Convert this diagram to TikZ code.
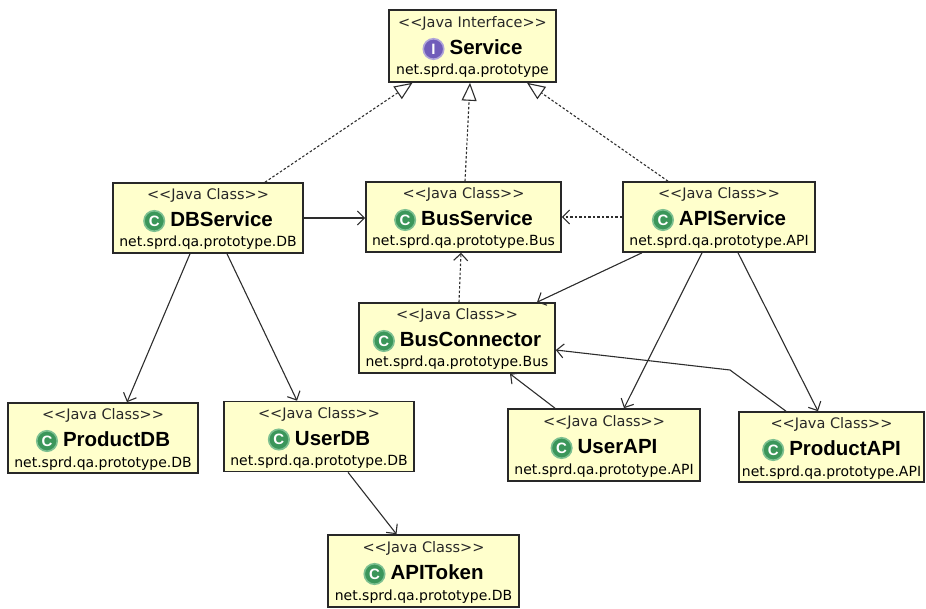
\documentclass[tikz,border=0pt]{standalone}
\usepackage{fontspec}
\usepackage{tikz}
\usetikzlibrary{arrows.meta}

\newfontfamily\stereofamily{DejaVu Sans}
\newfontfamily\namefamily{Liberation Sans}

\definecolor{boxYellow}{RGB}{255,255,204}
\definecolor{boxLine}{RGB}{40,40,40}
\definecolor{edgeGray}{RGB}{45,45,45}
\definecolor{textGray}{RGB}{40,40,40}
\definecolor{iconGreen}{RGB}{59,150,90}
\definecolor{iconRing}{RGB}{125,192,145}
\definecolor{iconPurple}{RGB}{112,92,186}

\tikzset{icon/.style={circle, line width=1.6pt, text=white, inner sep=0pt,
  minimum size=20.5pt, font=\namefamily\bfseries\fontsize{15}{15}\selectfont}}

\newcommand\classicon{\tikz[baseline=-5.5pt]\node[icon, fill=iconGreen, draw=iconRing] {C};}
\newcommand\ifaceicon{\tikz[baseline=-5.5pt]\node[icon, fill=iconPurple, draw=iconPurple!55!white] {I};}

% stereotype, icon, name, package
\newcommand\umlbox[4]{%
  \vbox to 70pt{\offinterlineskip
    \halign{\hfil##\hfil\cr
      \vrule height16.5pt width0pt\smash{\stereofamily\fontsize{14.5}{16}\selectfont\color{textGray}<\kern0pt<#1>\kern0pt>}\cr
      \vrule height27pt width0pt\smash{#2\kern5pt\namefamily\bfseries\fontsize{20.5}{22}\selectfont #3}\cr
      \vrule height20.5pt width0pt\smash{\stereofamily\fontsize{14}{16}\selectfont #4}\cr}%
    \vss}}

\begin{document}
\begin{tikzpicture}
[x=1pt, y=-1pt,
  jclass/.style={draw=boxLine, fill=boxYellow, line width=1.6pt,
    inner sep=0pt, minimum height=70pt},
  dep/.style={draw=edgeGray, line width=1.1pt,
    -{Straight Barb[length=7pt, width=14pt]}},
  usedep/.style={dep, dash pattern=on 2.5pt off 2pt},
  realize/.style={draw=edgeGray, line width=1.1pt, dash pattern=on 2.5pt off 2pt,
    -{Triangle[open, length=18pt, width=15pt, fill=white]}}]
  \useasboundingbox (0,0) rectangle (926,609);

  % interface
  \node[jclass, minimum width=167pt, minimum height=72pt] (service) at (472.5,46)
    {\umlbox{Java Interface}{\ifaceicon}{Service}{net.sprd.qa.prototype}};

  % service classes
  \node[jclass, minimum width=190pt] (dbservice) at (208,218)
    {\umlbox{Java Class}{\classicon}{DBService}{net.sprd.qa.prototype.DB}};
  \node[jclass, minimum width=195pt] (busservice) at (463.5,217)
    {\umlbox{Java Class}{\classicon}{BusService}{net.sprd.qa.prototype.Bus}};
  \node[jclass, minimum width=192pt] (apiservice) at (719,217)
    {\umlbox{Java Class}{\classicon}{APIService}{net.sprd.qa.prototype.API}};
  \node[jclass, minimum width=196pt] (busconnector) at (457,338)
    {\umlbox{Java Class}{\classicon}{BusConnector}{net.sprd.qa.prototype.Bus}};

  % lower row
  \node[jclass, minimum width=190pt] (productdb) at (103,438)
    {\umlbox{Java Class}{\classicon}{ProductDB}{net.sprd.qa.prototype.DB}};
  \node[jclass, minimum width=190pt] (userdb) at (319,436.5)
    {\umlbox{Java Class}{\classicon}{UserDB}{net.sprd.qa.prototype.DB}};
  \node[jclass, minimum width=191pt, minimum height=72pt] (apitoken) at (423.5,571)
    {\umlbox{Java Class}{\classicon}{APIToken}{net.sprd.qa.prototype.DB}};
  \node[jclass, minimum width=192pt, minimum height=72pt] (userapi) at (604,445)
    {\umlbox{Java Class}{\classicon}{UserAPI}{net.sprd.qa.prototype.API}};
  \node[jclass, minimum width=185pt] (productapi) at (831.5,447)
    {\umlbox{Java Class}{\classicon}{ProductAPI}{net.sprd.qa.prototype.API}};

  \coordinate (bend) at (730,370);

  % realizations
  \draw[realize] ([xshift=57pt]dbservice.north) -- ([xshift=-60pt]service.south);
  \draw[realize] ([xshift=1.5pt]busservice.north) -- ([xshift=-2.5pt]service.south);
  \draw[realize] ([xshift=-51pt]apiservice.north) -- ([xshift=54.5pt]service.south);

  % dependencies
  \draw[dep] (dbservice.east) -- (dbservice.east -| busservice.west);
  \draw[usedep] (apiservice.west) -- (busservice.east);
  \draw[usedep] ([xshift=2pt]busconnector.north) -- ([xshift=-2.5pt]busservice.south);
  \draw[dep] ([xshift=-77pt]apiservice.south) -- ([xshift=80pt]busconnector.north);
  \draw[dep] ([xshift=-17pt]apiservice.south) -- ([xshift=20pt]userapi.north);
  \draw[dep] ([xshift=19pt]apiservice.south) -- ([xshift=-13.5pt]productapi.north);
  \draw[dep] ([xshift=-49pt]userapi.north) -- ([xshift=53pt]busconnector.south);
  \draw[dep] ([xshift=-45.5pt]productapi.north) -- (bend) -- ([yshift=-12pt]busconnector.east);
  \draw[dep] ([xshift=-18pt]dbservice.south) -- ([xshift=24pt]productdb.north);
  \draw[dep] ([xshift=19pt]dbservice.south) -- ([xshift=-22pt]userdb.north);
  \draw[dep] ([xshift=29pt]userdb.south) -- ([xshift=-27pt]apitoken.north);
\end{tikzpicture}
\end{document}
